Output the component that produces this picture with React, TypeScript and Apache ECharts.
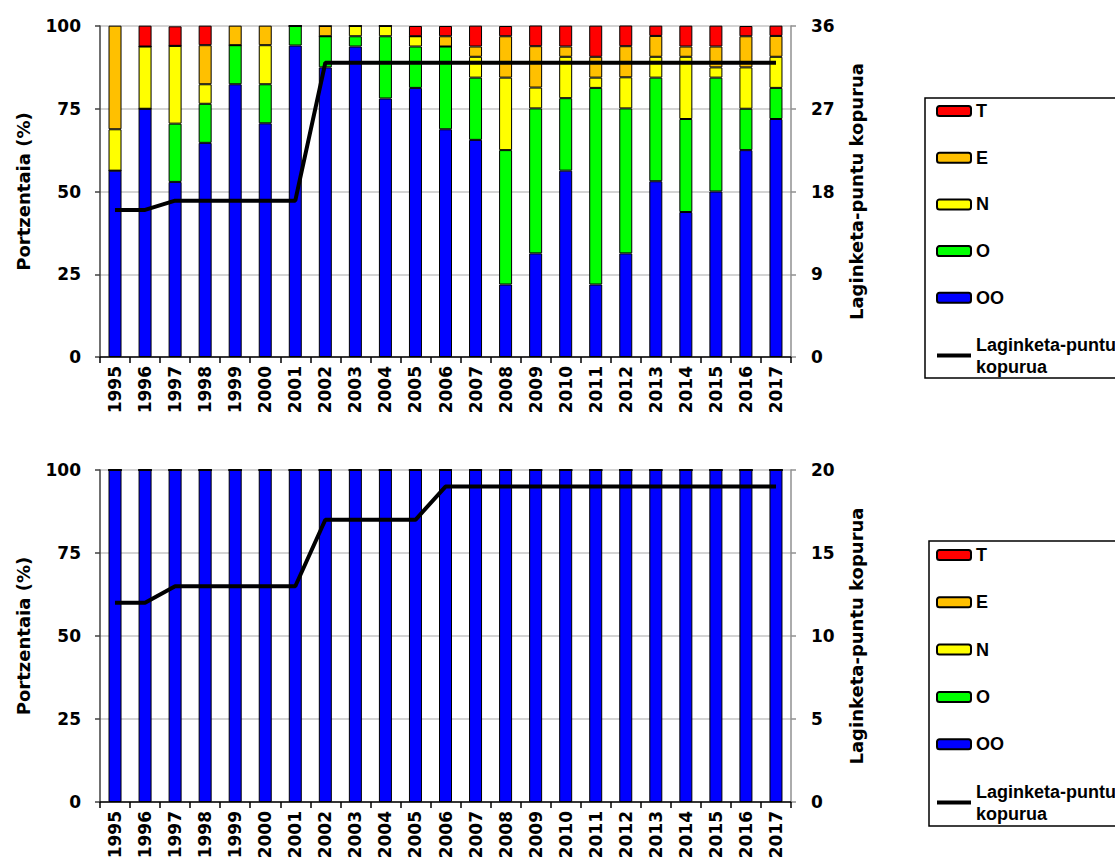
import React, { useEffect, useRef } from "react";
import * as echarts from "echarts";

const years = ["1995","1996","1997","1998","1999","2000","2001","2002","2003","2004","2005","2006","2007","2008","2009","2010","2011","2012","2013","2014","2015","2016","2017"];

// Top chart: percentages per class
const topOO = [56.3,75.0,52.9,64.7,82.4,70.6,94.1,87.5,93.8,78.1,81.3,68.8,65.6,21.9,31.3,56.3,21.9,31.3,53.1,43.8,50.0,62.5,71.9];
const topO  = [0,0,17.6,11.8,11.8,11.8,5.9,9.4,3.1,18.8,12.5,25.0,18.8,40.6,43.8,21.9,59.4,43.8,31.3,28.1,34.4,12.5,9.4];
const topN  = [12.5,18.8,23.5,5.9,0,11.8,0,0,3.1,3.1,3.1,0,6.3,21.9,6.3,12.5,3.1,9.4,6.3,18.8,3.1,12.5,9.4];
const topE  = [31.3,0,0,11.8,5.9,5.9,0,3.1,0,0,0,3.1,3.1,12.5,12.5,3.1,6.3,9.4,6.3,3.1,6.3,9.4,6.3];
const topT  = [0,6.3,5.9,5.9,0,0,0,0,0,0,3.1,3.1,6.3,3.1,6.3,6.3,9.4,6.3,3.1,6.3,6.3,3.1,3.1];
const topCount = [16,16,17,17,17,17,17,32,32,32,32,32,32,32,32,32,32,32,32,32,32,32,32];

// Bottom chart
const botOO = [100,100,100,100,100,100,100,100,100,100,100,100,100,100,100,100,100,100,100,100,100,100,100];
const botO  = [0,0,0,0,0,0,0,0,0,0,0,0,0,0,0,0,0,0,0,0,0,0,0];
const botN  = [0,0,0,0,0,0,0,0,0,0,0,0,0,0,0,0,0,0,0,0,0,0,0];
const botE  = [0,0,0,0,0,0,0,0,0,0,0,0,0,0,0,0,0,0,0,0,0,0,0];
const botT  = [0,0,0,0,0,0,0,0,0,0,0,0,0,0,0,0,0,0,0,0,0,0,0];
const botCount = [12,12,13,13,13,13,13,17,17,17,17,19,19,19,19,19,19,19,19,19,19,19,19];

const leftTicks = [0, 25, 50, 75, 100];
const topRightMax = 36;
const topRightInterval = 9;
const botRightMax = 20;
const botRightInterval = 5;

const classNames = ["OO", "O", "N", "E", "T"];
const classColors = ["#0000FF", "#00FF00", "#FFFF00", "#FFC000", "#FF0000"];
const lineName = "Laginketa-puntu kopurua";

const AX_FONT = "DejaVu Sans";
const LEG_FONT = "Liberation Sans";

export default function App() {
  const ref = useRef<HTMLDivElement>(null);
  useEffect(() => {
    if (!ref.current) return;
    const chart = echarts.init(ref.current, undefined, { renderer: "svg" });

    const grids = [
      { left: 100, top: 26, width: 691, height: 331 },
      { left: 100, top: 470, width: 691, height: 332 },
    ];

    const xAxes = grids.map((_, i) => ({
      type: "category",
      gridIndex: i,
      data: years,
      boundaryGap: true,
      axisLine: { lineStyle: { color: "#000", width: 1.5 } },
      axisTick: { show: true, alignWithLabel: false, interval: 0, length: 6, lineStyle: { color: "#000", width: 1.5 } },
      axisLabel: {
        interval: 0,
        rotate: 90,
        margin: 9,
        color: "#000",
        fontFamily: AX_FONT,
        fontWeight: "bold",
        fontSize: 17,
      },
    }));

    const leftY = (i: number) => ({
      type: "value",
      gridIndex: i,
      min: leftTicks[0],
      max: leftTicks[leftTicks.length - 1],
      interval: 25,
      name: "Portzentaia (%)",
      nameLocation: "middle",
      nameRotate: 90,
      nameGap: 68,
      nameTextStyle: { fontFamily: AX_FONT, fontWeight: "bold", fontSize: 18, color: "#000" },
      axisLine: { show: true, lineStyle: { color: "#404040", width: 1.5 } },
      axisTick: { show: true, length: 5, lineStyle: { color: "#404040", width: 1.5 } },
      axisLabel: { margin: 19, color: "#000", fontFamily: AX_FONT, fontWeight: "bold", fontSize: 17 },
      splitLine: { show: true, lineStyle: { color: "#c4c4c4", width: 1.5 } },
    });

    const rightY = (i: number, max: number, interval: number) => ({
      type: "value",
      gridIndex: i,
      position: "right",
      min: 0,
      max,
      interval,
      name: lineName,
      nameLocation: "middle",
      nameRotate: 90,
      nameGap: 56,
      nameTextStyle: { fontFamily: AX_FONT, fontWeight: "bold", fontSize: 18, color: "#000" },
      axisLine: { show: true, lineStyle: { color: "#909090", width: 1.5 } },
      axisTick: { show: true, length: 5, lineStyle: { color: "#909090", width: 1.5 } },
      axisLabel: { margin: 20, color: "#000", fontFamily: AX_FONT, fontWeight: "bold", fontSize: 17 },
      splitLine: { show: false },
    });

    const topData = [topOO, topO, topN, topE, topT];
    const botData = [botOO, botO, botN, botE, botT];

    const barSeries = (data: number[][], gi: number) =>
      classNames.map((name, k) => ({
        type: "bar",
        name,
        xAxisIndex: gi,
        yAxisIndex: gi * 2,
        stack: "s" + gi,
        barWidth: 13,
        data: data[k],
        itemStyle: { color: classColors[k], borderColor: "#000", borderWidth: 1 },
        emphasis: { disabled: true },
      }));

    const lineSeries = (data: number[], gi: number) => ({
      type: "line",
      name: lineName,
      xAxisIndex: gi,
      yAxisIndex: gi * 2 + 1,
      data,
      symbol: "none",
      showSymbol: false,
      z: 10,
      lineStyle: { color: "#000", width: 4 },
      itemStyle: { color: "#000" },
      emphasis: { disabled: true },
    });

    const legendData = [
      { name: "T" },
      { name: "E" },
      { name: "N" },
      { name: "O" },
      { name: "OO" },
      { name: lineName, icon: "path://M0,0H34V4H0Z", itemStyle: { color: "#000", borderWidth: 0 } },
    ];
    const legendCommon = {
      orient: "vertical",
      left: 936,
      padding: 0,
      itemWidth: 34,
      itemHeight: 10,
      data: legendData,
      selectedMode: false,
      formatter: (n: string) => (n === lineName ? "Laginketa-puntu\nkopurua" : n),
      textStyle: { fontFamily: LEG_FONT, fontWeight: "bold", fontSize: 18, color: "#000", lineHeight: 22 },
    };

    chart.setOption({
      animation: false,
      backgroundColor: "#fff",
      grid: grids,
      xAxis: xAxes,
      yAxis: [
        leftY(0),
        rightY(0, topRightMax, topRightInterval),
        leftY(1),
        rightY(1, botRightMax, botRightInterval),
      ],
      legend: [
        { ...legendCommon, top: 100, itemGap: 24.7 },
        { ...legendCommon, top: 544, itemGap: 25.3 },
      ],
      graphic: [
        { type: "rect", shape: { x: 925, y: 98, width: 220, height: 280 }, style: { fill: "none", stroke: "#000", lineWidth: 1.5 }, silent: true },
        { type: "rect", shape: { x: 929, y: 541, width: 220, height: 285 }, style: { fill: "none", stroke: "#000", lineWidth: 1.5 }, silent: true },
      ],
      series: [
        ...barSeries(topData, 0),
        lineSeries(topCount, 0),
        ...barSeries(botData, 1),
        lineSeries(botCount, 1),
      ],
    });

    return () => chart.dispose();
  }, []);

  return (
    <div
      ref={ref}
      style={{ position: "absolute", left: 0, top: 0, width: 1115, height: 864, background: "#fff" }}
    />
  );
}
